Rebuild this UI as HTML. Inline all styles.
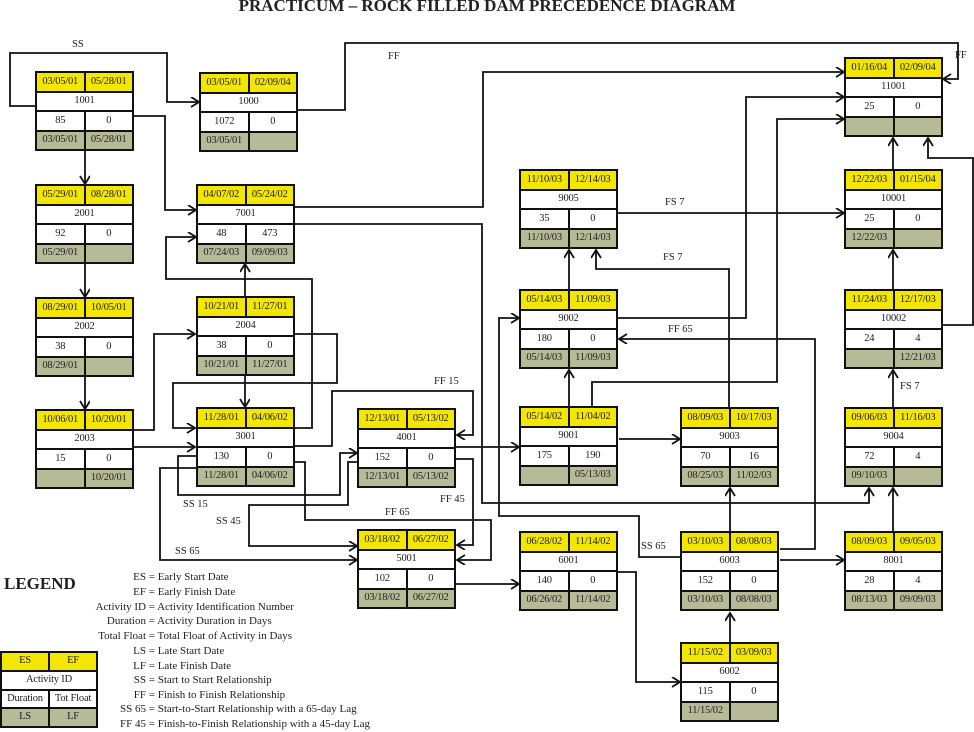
<!DOCTYPE html>
<html><head><meta charset="utf-8"><style>
body{margin:0;width:974px;height:732px;background:#fff;position:relative;overflow:hidden;font-family:"Liberation Serif",serif;color:#222}
.n{position:absolute;width:99px;height:80px;box-sizing:border-box;background:#111;padding:2px;display:grid;grid-template-columns:1fr 1fr;grid-template-rows:repeat(4,1fr);gap:2px;z-index:2}
.n div{display:flex;align-items:center;justify-content:center;font-size:10.5px;line-height:1;letter-spacing:-0.2px}
.y{background:#f3e600}.w{background:#fff}.g{background:#b7ba97}
.s{grid-column:1/3}
.t{position:absolute;font-size:10.5px;white-space:nowrap;z-index:3}
svg{position:absolute;left:0;top:0;z-index:1}
.lg{position:absolute;left:0;font-size:11px;white-space:nowrap}
.lg b{display:inline-block;width:146px;text-align:right;font-weight:normal}
</style></head><body>
<div style="position:absolute;left:0;width:974px;top:-4px;text-align:center;font-weight:bold;font-size:17px">PRACTICUM – ROCK FILLED DAM PRECEDENCE DIAGRAM</div>
<svg width="974" height="732" viewBox="0 0 974 732">
<defs><marker id="a" markerUnits="userSpaceOnUse" markerWidth="12" markerHeight="12" refX="9" refY="5" orient="auto"><path d="M1,0 L9,5 L1,10" fill="none" stroke="#111" stroke-width="1.8"/></marker></defs>
<g fill="none" stroke="#111" stroke-width="1.8" marker-end="url(#a)">
<polyline points="35,106 10,106 10,53 167,53 167,102 199,102"/>
<polyline points="134,116 165,116 165,210 196,210"/>
<polyline points="85,151 85,184"/><polyline points="85,264 85,297"/><polyline points="85,377 85,409"/>
<polyline points="298,110 345,110 345,43 958,43 958,79 943,79"/>
<polyline points="295,207 483,207 483,72 844,72"/>
<polyline points="294,428 312,428 312,279 166,279 166,237 196,237"/>
<polyline points="245,296 245,264"/><polyline points="245,376 245,407"/>
<polyline points="134,430 154,430 154,334 195,334"/>
<polyline points="294,334 337,334 337,383 173,383 173,428 195,428"/>
<polyline points="134,447 195,447"/>
<polyline points="294,446 332,446 332,391 473,391 473,435 457,435"/>
<polyline points="196,456 178,456 178,495 340,495 340,453 357,453"/>
<polyline points="357,462 348,462 348,505 249,505 249,546 357,546"/>
<polyline points="196,468 160,468 160,560 357,560"/>
<polyline points="294,462 305,462 305,520 491,520 491,560 457,560"/>
<polyline points="456,459 473,459 473,545 457,545"/>
<polyline points="456,447 519,447"/>
<polyline points="456,584 519,584"/>
<polyline points="295,224 482,224 482,503 869,503 869,488"/>
<polyline points="680,557 639,557 639,516 499,516 499,318 519,318"/>
<polyline points="569,406 569,370"/><polyline points="569,289 569,250"/>
<polyline points="592,406 592,382 777,382 777,119 844,119"/>
<polyline points="729,407 729,269 596,269 596,250"/>
<polyline points="618,318 746,318 746,97 844,97"/>
<polyline points="780,549 815,549 815,339 619,339"/>
<polyline points="618,213 844,213"/>
<polyline points="619,439 680,439"/>
<polyline points="618,572 636,572 636,682 680,682"/>
<polyline points="730,642 730,613"/><polyline points="730,531 730,488"/>
<polyline points="780,560 844,560"/>
<polyline points="893,531 893,488"/><polyline points="893,407 893,370"/><polyline points="893,289 893,250"/><polyline points="893,169 893,138"/>
<polyline points="943,325 973,325 973,158 928,158 928,138"/>
</g></svg>
<div class="t" style="left:72px;top:39px">SS</div>
<div class="t" style="left:388px;top:51px">FF</div>
<div class="t" style="left:955px;top:50px">FF</div>
<div class="t" style="left:665px;top:197px">FS 7</div>
<div class="t" style="left:663px;top:252px">FS 7</div>
<div class="t" style="left:668px;top:324px">FF 65</div>
<div class="t" style="left:900px;top:381px">FS 7</div>
<div class="t" style="left:434px;top:376px">FF 15</div>
<div class="t" style="left:440px;top:494px">FF 45</div>
<div class="t" style="left:385px;top:507px">FF 65</div>
<div class="t" style="left:183px;top:499px">SS 15</div>
<div class="t" style="left:216px;top:516px">SS 45</div>
<div class="t" style="left:175px;top:546px">SS 65</div>
<div class="t" style="left:641px;top:541px">SS 65</div>

<div class="n" style="left:35px;top:71px"><div class="y">03/05/01</div><div class="y">05/28/01</div><div class="w s">1001</div><div class="w">85</div><div class="w">0</div><div class="g">03/05/01</div><div class="g">05/28/01</div></div>
<div class="n" style="left:199px;top:72px"><div class="y">03/05/01</div><div class="y">02/09/04</div><div class="w s">1000</div><div class="w">1072</div><div class="w">0</div><div class="g">03/05/01</div><div class="g"></div></div>
<div class="n" style="left:35px;top:184px"><div class="y">05/29/01</div><div class="y">08/28/01</div><div class="w s">2001</div><div class="w">92</div><div class="w">0</div><div class="g">05/29/01</div><div class="g"></div></div>
<div class="n" style="left:196px;top:184px"><div class="y">04/07/02</div><div class="y">05/24/02</div><div class="w s">7001</div><div class="w">48</div><div class="w">473</div><div class="g">07/24/03</div><div class="g">09/09/03</div></div>
<div class="n" style="left:35px;top:297px"><div class="y">08/29/01</div><div class="y">10/05/01</div><div class="w s">2002</div><div class="w">38</div><div class="w">0</div><div class="g">08/29/01</div><div class="g"></div></div>
<div class="n" style="left:196px;top:296px"><div class="y">10/21/01</div><div class="y">11/27/01</div><div class="w s">2004</div><div class="w">38</div><div class="w">0</div><div class="g">10/21/01</div><div class="g">11/27/01</div></div>
<div class="n" style="left:35px;top:409px"><div class="y">10/06/01</div><div class="y">10/20/01</div><div class="w s">2003</div><div class="w">15</div><div class="w">0</div><div class="g"></div><div class="g">10/20/01</div></div>
<div class="n" style="left:196px;top:407px"><div class="y">11/28/01</div><div class="y">04/06/02</div><div class="w s">3001</div><div class="w">130</div><div class="w">0</div><div class="g">11/28/01</div><div class="g">04/06/02</div></div>
<div class="n" style="left:357px;top:408px"><div class="y">12/13/01</div><div class="y">05/13/02</div><div class="w s">4001</div><div class="w">152</div><div class="w">0</div><div class="g">12/13/01</div><div class="g">05/13/02</div></div>
<div class="n" style="left:357px;top:529px"><div class="y">03/18/02</div><div class="y">06/27/02</div><div class="w s">5001</div><div class="w">102</div><div class="w">0</div><div class="g">03/18/02</div><div class="g">06/27/02</div></div>
<div class="n" style="left:519px;top:169px"><div class="y">11/10/03</div><div class="y">12/14/03</div><div class="w s">9005</div><div class="w">35</div><div class="w">0</div><div class="g">11/10/03</div><div class="g">12/14/03</div></div>
<div class="n" style="left:519px;top:289px"><div class="y">05/14/03</div><div class="y">11/09/03</div><div class="w s">9002</div><div class="w">180</div><div class="w">0</div><div class="g">05/14/03</div><div class="g">11/09/03</div></div>
<div class="n" style="left:519px;top:406px"><div class="y">05/14/02</div><div class="y">11/04/02</div><div class="w s">9001</div><div class="w">175</div><div class="w">190</div><div class="g"></div><div class="g">05/13/03</div></div>
<div class="n" style="left:519px;top:531px"><div class="y">06/28/02</div><div class="y">11/14/02</div><div class="w s">6001</div><div class="w">140</div><div class="w">0</div><div class="g">06/26/02</div><div class="g">11/14/02</div></div>
<div class="n" style="left:680px;top:407px"><div class="y">08/09/03</div><div class="y">10/17/03</div><div class="w s">9003</div><div class="w">70</div><div class="w">16</div><div class="g">08/25/03</div><div class="g">11/02/03</div></div>
<div class="n" style="left:680px;top:531px"><div class="y">03/10/03</div><div class="y">08/08/03</div><div class="w s">6003</div><div class="w">152</div><div class="w">0</div><div class="g">03/10/03</div><div class="g">08/08/03</div></div>
<div class="n" style="left:680px;top:642px"><div class="y">11/15/02</div><div class="y">03/09/03</div><div class="w s">6002</div><div class="w">115</div><div class="w">0</div><div class="g">11/15/02</div><div class="g"></div></div>
<div class="n" style="left:844px;top:57px"><div class="y">01/16/04</div><div class="y">02/09/04</div><div class="w s">11001</div><div class="w">25</div><div class="w">0</div><div class="g"></div><div class="g"></div></div>
<div class="n" style="left:844px;top:169px"><div class="y">12/22/03</div><div class="y">01/15/04</div><div class="w s">10001</div><div class="w">25</div><div class="w">0</div><div class="g">12/22/03</div><div class="g"></div></div>
<div class="n" style="left:844px;top:289px"><div class="y">11/24/03</div><div class="y">12/17/03</div><div class="w s">10002</div><div class="w">24</div><div class="w">4</div><div class="g"></div><div class="g">12/21/03</div></div>
<div class="n" style="left:844px;top:407px"><div class="y">09/06/03</div><div class="y">11/16/03</div><div class="w s">9004</div><div class="w">72</div><div class="w">4</div><div class="g">09/10/03</div><div class="g"></div></div>
<div class="n" style="left:844px;top:531px"><div class="y">08/09/03</div><div class="y">09/05/03</div><div class="w s">8001</div><div class="w">28</div><div class="w">4</div><div class="g">08/13/03</div><div class="g">09/09/03</div></div>

<div style="position:absolute;left:4px;top:574px;font-weight:bold;font-size:17px">LEGEND</div>
<div class="lg" style="top:571px"><b>ES</b> = Early Start Date</div>
<div class="lg" style="top:586px"><b>EF</b> = Early Finish Date</div>
<div class="lg" style="top:601px"><b>Activity ID</b> = Activity Identification Number</div>
<div class="lg" style="top:615px"><b>Duration</b> = Activity Duration in Days</div>
<div class="lg" style="top:630px"><b>Total Float</b> = Total Float of Activity in Days</div>
<div class="lg" style="top:645px"><b>LS</b> = Late Start Date</div>
<div class="lg" style="top:660px"><b>LF</b> = Late Finish Date</div>
<div class="lg" style="top:674px"><b>SS</b> = Start to Start Relationship</div>
<div class="lg" style="top:689px"><b>FF</b> = Finish to Finish Relationship</div>
<div class="lg" style="top:703px"><b>SS 65</b> = Start-to-Start Relationship with a 65-day Lag</div>
<div class="lg" style="top:718px"><b>FF 45</b> = Finish-to-Finish Relationship with a 45-day Lag</div>
<div class="n" style="left:0px;top:651px;width:98px;height:77px"><div class="y">ES</div><div class="y">EF</div><div class="w s">Activity ID</div><div class="w">Duration</div><div class="w">Tot Float</div><div class="g">LS</div><div class="g">LF</div></div>
</body></html>
